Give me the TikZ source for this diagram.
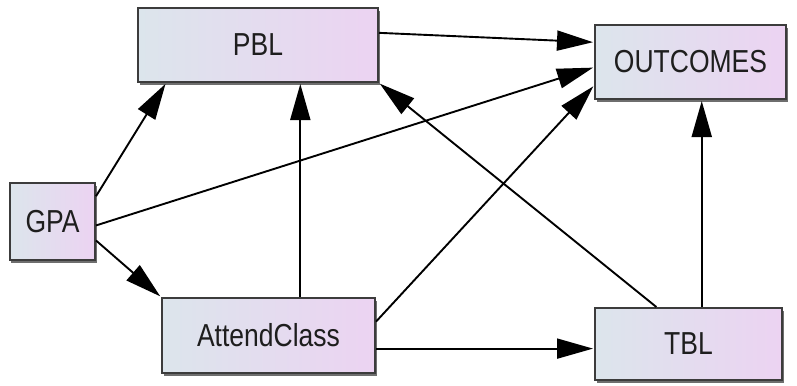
\documentclass[tikz,border=0pt]{standalone}
\usepackage{fontspec}
\setmainfont{Liberation Sans}
\usetikzlibrary{arrows.meta,calc,shadows}
\definecolor{boxleft}{RGB}{220,229,236}
\definecolor{boxright}{RGB}{236,211,242}
\definecolor{boxline}{RGB}{60,60,60}
\definecolor{boxshade}{RGB}{110,110,110}
\definecolor{labelink}{RGB}{30,30,30}
\newcommand{\tallsans}[1]{\scalebox{1}[1.2]{#1}}
\tikzset{
  varbox/.style={draw=boxline, line width=2bp, rectangle, inner sep=0pt,
    left color=boxleft, right color=boxright, shading angle=90,
    text=labelink, font=\fontsize{26.5bp}{30bp}\selectfont,
    general shadow={fill=boxshade, shadow xshift=1.5bp, shadow yshift=-3bp}},
  path/.style={draw=black, line width=1.9bp,
    -{Triangle[length=36bp,width=20bp]}, shorten >=1bp}
}
\begin{document}
\begin{tikzpicture}[x=1bp,y=-1bp]
  \useasboundingbox (0,0) rectangle (797,385);
  % variables
  \node[varbox, minimum width=240bp, minimum height=74bp] (pbl) at (258,45) {\tallsans{PBL}};
  \node[varbox, minimum width=191bp, minimum height=74bp] (out) at (690.5,62) {\tallsans{OUTCOMES}};
  \node[varbox, minimum width=85bp, minimum height=77bp] (gpa) at (52.5,221.5) {\tallsans{GPA}};
  \node[varbox, minimum width=213bp, minimum height=75bp] (att) at (268.5,335.5) {\tallsans{AttendClass}};
  \node[varbox, minimum width=187bp, minimum height=72bp] (tbl) at (688.5,344) {\tallsans{TBL}};
  % attachment points on the box sides
  \coordinate (p1) at ($(pbl.north east)!0.34!(pbl.south east)$);
  \coordinate (p2) at ($(pbl.south west)!0.12!(pbl.south east)$);
  \coordinate (o1) at ($(out.north west)!0.24!(out.south west)$);
  \coordinate (o3) at ($(out.north west)!0.57!(out.south west)$);
  \coordinate (o6) at ($(out.north west)!0.81!(out.south west)$);
  \coordinate (g2) at ($(gpa.north east)!0.18!(gpa.south east)$);
  \coordinate (g3) at ($(gpa.north east)!0.55!(gpa.south east)$);
  \coordinate (g4) at ($(gpa.north east)!0.74!(gpa.south east)$);
  \coordinate (a5) at ($(att.north west)!0.648!(att.north east)$);
  \coordinate (a6) at ($(att.north east)!0.32!(att.south east)$);
  \coordinate (a7) at ($(att.north east)!0.67!(att.south east)$);
  \coordinate (t8) at ($(tbl.north west)!0.33!(tbl.north east)$);
  \coordinate (t9) at ($(tbl.north west)!0.57!(tbl.north east)$);
  % paths
  \draw[path] (p1) -- (o1);
  \draw[path] (g2) -- (p2);
  \draw[path] (g3) -- (o3);
  \draw[path] (g4) -- (att.north west);
  \draw[path] (a5) -- (a5 |- pbl.south);
  \draw[path] (a6) -- (o6);
  \draw[path] (a7) -- (a7 -| tbl.west);
  \draw[path] (t8) -- (pbl.south east);
  \draw[path] (t9) -- (t9 |- out.south);
\end{tikzpicture}
\end{document}
